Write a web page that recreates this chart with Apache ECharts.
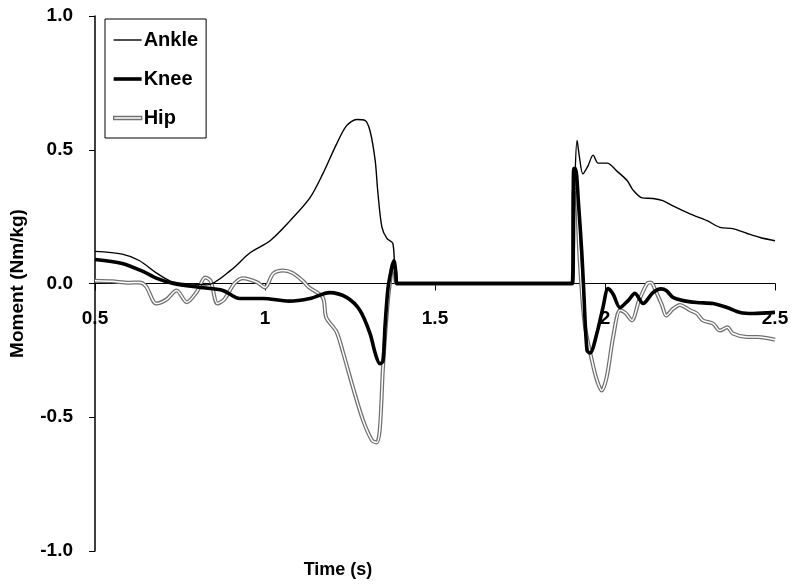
<!DOCTYPE html>
<html>
<head>
<meta charset="utf-8">
<script src="https://cdn.jsdelivr.net/npm/echarts@6/dist/echarts.min.js"></script>
<style>
  html, body { margin: 0; padding: 0; background: #fff; }
  #chart { width: 800px; height: 584px; }
</style>
</head>
<body>
<div id="chart"></div>
<script>
// time (s) and moment (Nm/kg)
const ankleT = [0.5, 0.58, 0.63, 0.68, 0.72, 0.76, 0.8, 0.83, 0.9, 0.956, 1.015, 1.074, 1.132, 1.17, 1.21, 1.24, 1.27, 1.294, 1.309, 1.324, 1.332, 1.344, 1.359, 1.376, 1.382, 1.388,
  1.906, 1.912, 1.918, 1.924, 1.935, 1.95, 1.965, 1.98, 2.006, 2.035, 2.065, 2.082, 2.109, 2.141, 2.17, 2.2, 2.25, 2.3, 2.338, 2.376, 2.418, 2.456, 2.5];
const ankleV = [0.12, 0.11, 0.086, 0.04, 0.01, 0.0, -0.003, -0.005, 0.05, 0.115, 0.16, 0.235, 0.32, 0.41, 0.52, 0.59, 0.613, 0.61, 0.57, 0.46, 0.34, 0.21, 0.168, 0.15, 0.04, 0,
  0, 0.4, 0.535, 0.48, 0.41, 0.44, 0.48, 0.45, 0.45, 0.42, 0.385, 0.35, 0.32, 0.318, 0.31, 0.29, 0.26, 0.235, 0.21, 0.205, 0.187, 0.172, 0.16];

const kneeT = [0.5, 0.58, 0.65, 0.68, 0.73, 0.81, 0.876, 0.926, 0.994, 1.07, 1.132, 1.19, 1.24, 1.279, 1.309, 1.324, 1.338, 1.347, 1.353, 1.362, 1.373, 1.379, 1.385, 1.388,
  1.904, 1.908, 1.913, 1.922, 1.932, 1.937, 1.947, 1.956, 1.976, 1.994, 2.009, 2.024, 2.044, 2.068, 2.088, 2.112, 2.141, 2.165, 2.18, 2.2, 2.23, 2.27, 2.318, 2.359, 2.397, 2.435, 2.5];
const kneeV = [0.09, 0.075, 0.04, 0.02, 0.0, -0.015, -0.026, -0.056, -0.056, -0.066, -0.056, -0.034, -0.052, -0.1, -0.187, -0.26, -0.3, -0.29, -0.16, -0.015, 0.06, 0.085, 0.04, 0,
  0, 0.43, 0.43, 0.3, 0.11, -0.015, -0.25, -0.26, -0.187, -0.09, -0.019, -0.04, -0.09, -0.064, -0.037, -0.075, -0.034, -0.02, -0.026, -0.052, -0.064, -0.071, -0.075, -0.09, -0.108, -0.112, -0.108];

const hipT = [0.5, 0.55, 0.6, 0.63, 0.65, 0.68, 0.71, 0.74, 0.77, 0.8, 0.824, 0.84, 0.86, 0.88, 0.91, 0.935, 0.976, 1.0, 1.024, 1.053, 1.08, 1.11, 1.13, 1.17, 1.18, 1.21, 1.23, 1.259, 1.288, 1.315, 1.329, 1.338, 1.347, 1.359, 1.368, 1.376, 1.382, 1.388,
  1.904, 1.908, 1.914, 1.925, 1.94, 1.962, 1.976, 1.99, 2.005, 2.024, 2.044, 2.06, 2.079, 2.1, 2.124, 2.135, 2.15, 2.168, 2.18, 2.2, 2.22, 2.25, 2.27, 2.288, 2.318, 2.338, 2.36, 2.376, 2.418, 2.45, 2.5];
const hipV = [0.01, 0.008, 0.003, 0.004, -0.01, -0.075, -0.06, -0.026, -0.07, -0.03, 0.022, 0.01, -0.075, -0.06, 0.0, 0.02, 0.005, -0.015, 0.037, 0.049, 0.04, 0.011, -0.015, -0.052, -0.127, -0.18, -0.26, -0.39, -0.51, -0.587, -0.594, -0.54, -0.314, -0.1, 0.01, 0.07, 0.04, 0,
  0, 0.35, 0.35, 0.1, -0.15, -0.29, -0.36, -0.4, -0.35, -0.2, -0.1, -0.11, -0.138, -0.064, 0.0, 0.004, -0.03, -0.082, -0.12, -0.095, -0.08, -0.1, -0.112, -0.138, -0.15, -0.176, -0.164, -0.187, -0.2, -0.2, -0.21];

const names = ["Ankle", "Knee", "Hip"];

const zip = (t, v) => t.map((x, i) => [x, v[i]]);
const font = "Liberation Sans";
const labelFont = { fontFamily: font, fontWeight: "bold", fontSize: 19, color: "#000" };

const chart = echarts.init(document.getElementById("chart"));
chart.setOption({
  animation: false,
  backgroundColor: "#fff",
  grid: { left: 95, right: 25, top: 16, bottom: 33, outerBoundsMode: "none", containLabel: false },
  legend: {
    left: 105,
    top: 19,
    orient: "vertical",
    padding: [11, 8, 10, 8],
    itemGap: 19,
    itemWidth: 28,
    itemHeight: 16,
    borderColor: "#000",
    borderWidth: 1,
    textStyle: { fontFamily: font, fontWeight: "bold", fontSize: 20, color: "#000", padding: [0, 0, 0, -3] },
    data: [
      { name: names[0], icon: "path://M0,0h28v1.4h-28z", itemStyle: { color: "#000", borderWidth: 0 } },
      { name: names[1], icon: "path://M0,0h28v3.6h-28z", itemStyle: { color: "#000", borderWidth: 0 } },
      { name: names[2], icon: "path://M0,0h28v3h-28z", itemStyle: { color: "#fff", borderColor: "#707070", borderWidth: 1.3 } }
    ]
  },
  xAxis: [
    {
      // zero line with ticks, plus the axis title under the plot
      type: "value",
      min: 0.5,
      max: 2.5,
      interval: 0.5,
      name: "Time (s)",
      nameLocation: "middle",
      nameGap: 10,
      nameTextStyle: { fontFamily: font, fontWeight: "bold", fontSize: 18, color: "#000", padding: [0, 194, 0, 0] },
      axisLine: { onZero: true, lineStyle: { color: "#000", width: 1 } },
      axisTick: { show: true, inside: false, length: 7, lineStyle: { color: "#000" } },
      axisLabel: { show: false },
      splitLine: { show: false }
    },
    {
      // tick labels sitting just under the zero line
      type: "value",
      position: "bottom",
      offset: -268,
      min: 0.5,
      max: 2.5,
      interval: 0.5,
      axisLine: { show: false, onZero: false },
      axisTick: { show: false },
      axisLabel: Object.assign({ margin: 26, showMinLabel: true, showMaxLabel: true }, labelFont),
      splitLine: { show: false }
    }
  ],
  yAxis: {
    type: "value",
    min: -1,
    max: 1,
    interval: 0.5,
    name: "Moment (Nm/kg)",
    nameLocation: "middle",
    nameGap: 68,
    nameTextStyle: labelFont,
    axisLine: { show: true, onZero: false, lineStyle: { color: "#000", width: 1.5 } },
    axisTick: { show: true, length: 6, lineStyle: { color: "#000" } },
    axisLabel: Object.assign({ margin: 22, formatter: v => v.toFixed(1) }, labelFont),
    splitLine: { show: false }
  },
  series: [
    {
      name: names[2], type: "line", data: zip(hipT, hipV), showSymbol: false, smooth: 0.3,
      lineStyle: { color: "#707070", width: 4 }, itemStyle: { color: "#707070" }, z: 2
    },
    {
      name: "HipCore", type: "line", data: zip(hipT, hipV), showSymbol: false, smooth: 0.3, silent: true,
      lineStyle: { color: "#fff", width: 1.5 }, itemStyle: { color: "#fff" }, z: 3
    },
    {
      name: names[0], type: "line", data: zip(ankleT, ankleV), showSymbol: false, smooth: 0.3,
      lineStyle: { color: "#000", width: 1.4 }, itemStyle: { color: "#000" }, z: 4
    },
    {
      name: names[1], type: "line", data: zip(kneeT, kneeV), showSymbol: false, smooth: 0.3,
      lineStyle: { color: "#000", width: 3.6 }, itemStyle: { color: "#000" }, z: 5
    }
  ]
});
</script>
</body>
</html>
